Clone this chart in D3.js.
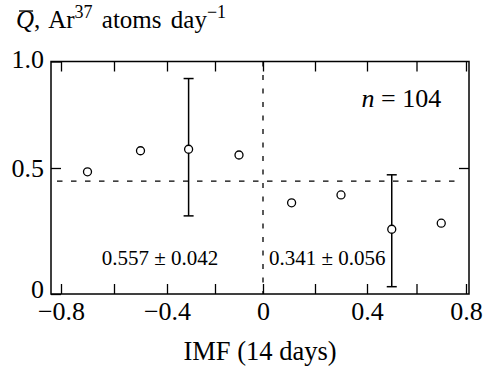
<!DOCTYPE html>
<html>
<head>
<meta charset="utf-8">
<script src="https://cdn.jsdelivr.net/npm/d3@7"></script>
<style>
  html, body { margin: 0; padding: 0; background: #fff; }
  svg { display: block; }
  text { font-family: "Liberation Serif", "Times New Roman", serif; fill: #000; }
</style>
</head>
<body>
<svg id="chart" width="487" height="371"></svg>
<script>
// ---- data ----
const imf      = [-0.7, -0.5, -0.31, -0.1, 0.11, 0.3, 0.5, 0.7];
const qValues  = [0.485, 0.581, 0.588, 0.561, 0.362, 0.393, 0.257, 0.281];
const errBarX  = [-0.31, 0.5];
const errLow   = [0.31, 0.029];
const errHigh  = [0.92, 0.473];
const meanLevel = 0.448;
const xMajorTicks = [-0.8, -0.4, 0, 0.4, 0.8];
const xMinorTicks = [-0.6, -0.2, 0.2, 0.6];
const yTicks = [0, 0.5, 1.0];
const xTickLabels = ["\u22120.8", "\u22120.4", "0", "0.4", "0.8"];
const yTickLabels = ["0", "0.5", "1.0"];
const annotations = [
  { text: "0.557 \u00b1 0.042", x: -0.426, y: 0.115, anchor: "middle" },
  { text: "0.341 \u00b1 0.056", x: 0.023, y: 0.115, anchor: "start" }
];
const nLabel = "104";

// ---- layout ----
const svg = d3.select("#chart");
const pLeft = 51, pRight = 469, pTop = 61.5, pBottom = 294;

const x = d3.scaleLinear()
  .domain([-0.8, -0.4, 0, 0.4, 0.8])
  .range([61, 167, 263, 367, 466]);
const y = d3.scaleLinear()
  .domain([0, 0.5, 1.0])
  .range([pBottom, 168, pTop]);

const fontTick = 26;
const allX = xMajorTicks.concat(xMinorTicks);
const fmtX = d => { const i = xMajorTicks.indexOf(d); return i >= 0 ? xTickLabels[i] : ""; };
const fmtY = d => yTickLabels[yTicks.indexOf(d)];

// bottom axis
const gB = svg.append("g").attr("transform", `translate(0,${pBottom})`)
  .call(d3.axisBottom(x).tickValues(allX).tickSize(-10).tickPadding(7.5).tickFormat(fmtX));
// top axis
const gT = svg.append("g").attr("transform", `translate(0,${pTop})`)
  .call(d3.axisTop(x).tickValues(allX).tickSize(-10).tickFormat(""));
// left axis
const gL = svg.append("g").attr("transform", `translate(${pLeft},0)`)
  .call(d3.axisLeft(y).tickValues(yTicks).tickSize(-10).tickPadding(7).tickFormat(fmtY));
// right axis
const gR = svg.append("g").attr("transform", `translate(${pRight},0)`)
  .call(d3.axisRight(y).tickValues([0.5]).tickSize(-10).tickFormat(""));

[gB, gT, gL, gR].forEach(g => {
  g.select(".domain").remove();
  g.selectAll(".tick line").attr("stroke", "#000").attr("stroke-width", 1.3);
  g.selectAll("text").style("font-family", '"Liberation Serif", "Times New Roman", serif')
    .style("font-size", fontTick + "px").attr("fill", "#000");
});
gL.selectAll(".tick text").attr("dy", d => d === 0 ? "0.15em" : (d === 0.5 ? "0.33em" : "0.22em"));

// frame
svg.append("rect")
  .attr("x", pLeft).attr("y", pTop)
  .attr("width", pRight - pLeft).attr("height", pBottom - pTop)
  .attr("fill", "none").attr("stroke", "#000").attr("stroke-width", 1.5);

// dashed reference lines
svg.append("line")
  .attr("x1", x(0)).attr("x2", x(0)).attr("y1", pTop).attr("y2", pBottom)
  .attr("stroke", "#000").attr("stroke-width", 1.3).attr("stroke-dasharray", "5,8.5");
svg.append("line")
  .attr("x1", pLeft + 6).attr("x2", pRight - 6)
  .attr("y1", y(meanLevel)).attr("y2", y(meanLevel))
  .attr("stroke", "#000").attr("stroke-width", 1.3).attr("stroke-dasharray", "5.5,8.5");

// error bars
const eb = errBarX.map((d, i) => ({ x: d, lo: errLow[i], hi: errHigh[i] }));
const gE = svg.append("g").attr("stroke", "#000").attr("stroke-width", 1.5);
gE.selectAll(".v").data(eb).join("line")
  .attr("x1", d => x(d.x)).attr("x2", d => x(d.x))
  .attr("y1", d => y(d.lo)).attr("y2", d => y(d.hi));
gE.selectAll(".ct").data(eb).join("line")
  .attr("x1", d => x(d.x) - 5).attr("x2", d => x(d.x) + 5)
  .attr("y1", d => y(d.hi)).attr("y2", d => y(d.hi));
gE.selectAll(".cb").data(eb).join("line")
  .attr("x1", d => x(d.x) - 5).attr("x2", d => x(d.x) + 5)
  .attr("y1", d => y(d.lo)).attr("y2", d => y(d.lo));

// points
svg.append("g").selectAll("circle")
  .data(imf.map((d, i) => ({ x: d, q: qValues[i] })))
  .join("circle")
  .attr("cx", d => x(d.x)).attr("cy", d => y(d.q)).attr("r", 4)
  .attr("fill", "#fff").attr("stroke", "#000").attr("stroke-width", 1.3);

// annotations
annotations.forEach(a => {
  svg.append("text")
    .attr("x", x(a.x)).attr("y", y(a.y))
    .attr("text-anchor", a.anchor)
    .style("font-size", "21px")
    .text(a.text);
});

// n = 104
const nt = svg.append("text")
  .attr("x", x(0.70)).attr("y", y(0.786))
  .attr("text-anchor", "end").style("font-size", "26px");
nt.append("tspan").style("font-style", "italic").text("n");
nt.append("tspan").text(" = " + nLabel);

// x-axis label
svg.append("text")
  .attr("x", (pLeft + pRight) / 2 + 0).attr("y", 360)
  .attr("text-anchor", "middle").style("font-size", "26.5px")
  .text("IMF (14 days)");

// title
const title = svg.append("text").attr("x", 16).attr("y", 28)
  .style("font-size", "25px").style("word-spacing", "3px");
title.append("tspan").style("font-style", "italic").text("Q");
title.append("tspan").text(", Ar");
title.append("tspan").attr("dy", -10).style("font-size", "18px").text("37");
title.append("tspan").attr("dy", 10).text(" atoms day");
title.append("tspan").attr("dy", -10).style("font-size", "18px").text("\u22121");
// overbar on Q
const qExt = title.node().getExtentOfChar(0);
svg.append("line")
  .attr("x1", qExt.x + 3).attr("x2", qExt.x + qExt.width - 1)
  .attr("y1", 11).attr("y2", 11)
  .attr("stroke", "#000").attr("stroke-width", 1.3);
</script>
</body>
</html>
